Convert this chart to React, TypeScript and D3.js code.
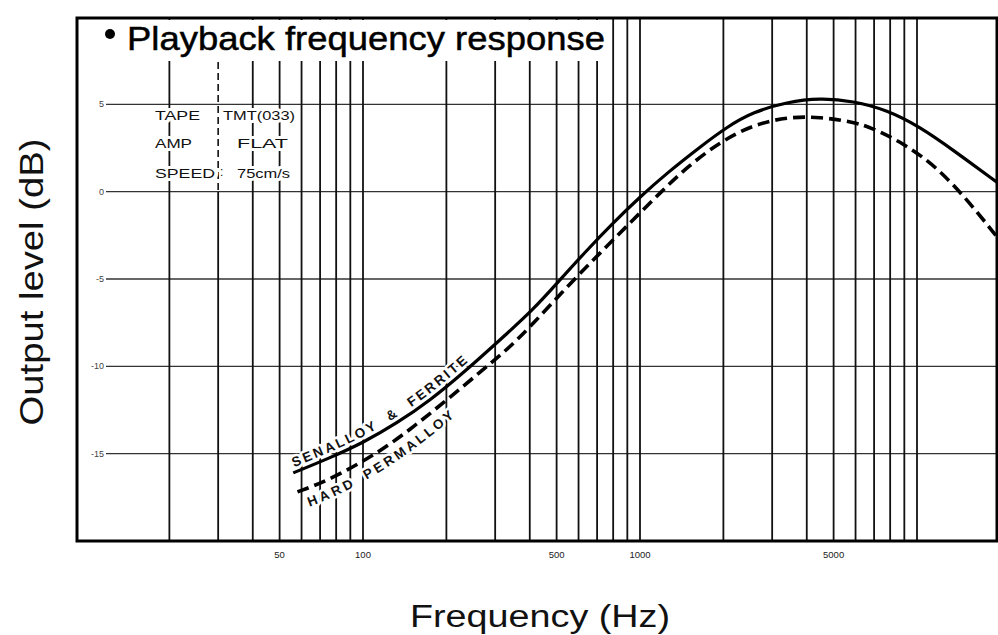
import React from "react";
import * as d3 from "d3";

// Series: SENALLOY & FERRITE (solid)
const solidFreq = [56, 76, 100, 133, 175, 230, 312, 411, 514, 644, 799, 1000, 1252, 1647, 2061, 2558, 3394, 4465, 5875, 7795, 10250, 13490, 19600];
const solidDb = [-16.1, -15.24, -14.38, -13.24, -11.94, -10.38, -8.49, -6.77, -5.05, -3.34, -1.79, -0.3, 1.07, 2.56, 3.71, 4.56, 5.13, 5.36, 5.19, 4.68, 3.71, 2.39, 0.5];
// Series: HARD PERMALLOY (dashed)
const dashedFreq = [58, 76, 115, 152, 201, 265, 331, 411, 545, 717, 943, 1181, 1478, 1945, 2558, 3394, 4465, 5875, 6766, 8902, 11810, 15540, 19450];
const dashedDb = [-17.19, -16.5, -14.9, -13.47, -11.92, -10.32, -9.06, -7.57, -5.45, -3.51, -1.62, -0.07, 1.41, 2.85, 3.82, 4.28, 4.28, 3.99, 3.7, 2.79, 1.41, -0.65, -2.59];

const gridFreqs = [20, 30, 40, 50, 60, 70, 80, 90, 100, 200, 300, 400, 500, 600, 700, 800, 900, 1000, 2000, 3000, 4000, 5000, 6000, 7000, 8000, 9000, 10000];
const xTickValues = [50, 100, 500, 1000, 5000];
const xTickLabels = ["50", "100", "500", "1000", "5000"];
const yTickValues = [5, 0, -5, -10, -15];
const yTickLabels = ["5", "0", "-5", "-10", "-15"];

const titleText = "Playback frequency response";
const xTitle = "Frequency (Hz)";
const yTitle = "Output level (dB)";
const noteLeft = ["TAPE", "AMP", "SPEED"];
const noteRight = ["TMT(033)", "FLAT", "75cm/s"];
const solidLabel = ["SENALLOY", "&", "FERRITE"];
const dashedLabel = ["HARD", "PERMALLOY"];

const FONT = "'Liberation Sans', Arial, Helvetica, sans-serif";

export default function App() {
  const X0 = 77, X1 = 997, Y0 = 18, Y1 = 541;
  const x = d3.scaleLog().domain([10, 10000]).range([86, 917]);
  const y = d3.scaleLinear().domain([-20, 10]).range([541, 17]);

  const solid = solidFreq.map((f, i) => ({ f, v: solidDb[i] }));
  const dashed = dashedFreq.map((f, i) => ({ f, v: dashedDb[i] }));
  const line = d3
    .line<{ f: number; v: number }>()
    .x((d) => x(d.f))
    .y((d) => y(d.v))
    .curve(d3.curveBasis);
  const solidPath = line(solid) || "";
  const dashedPath = line(dashed) || "";

  const halo = { stroke: "#fff", strokeWidth: 6, paintOrder: "stroke" as const, strokeLinejoin: "round" as const };

  const noteX1 = [155, 155, 155];
  const noteW1 = [45, 37, 60];
  const noteX2 = [223, 237, 237];
  const noteW2 = [72, 51, 53];
  const noteY = [120, 148, 178];

  const lblStyle = { fontSize: 13.5, fill: "#111", fontWeight: "bold" as const, letterSpacing: 2.6, ...halo, strokeWidth: 5 };

  return (
    <svg width={998} height={635} style={{ position: "absolute", left: 0, top: 0, background: "#fff" }} fontFamily={FONT}>
      <defs>
        <clipPath id="plotClip">
          <rect x={X0} y={Y0} width={X1 - X0} height={Y1 - Y0} />
        </clipPath>
      </defs>
      <rect x={0} y={0} width={998} height={635} fill="#fff" />

      {/* horizontal grid */}
      {yTickValues.map((v, i) => (
        <g key={"h" + i}>
          <line x1={106} x2={X1} y1={y(v)} y2={y(v)} stroke="#333" strokeWidth={1.4} />
          <text x={104} y={y(v) + 3} fontSize={9} textAnchor="end" fill="#444">{yTickLabels[i]}</text>
        </g>
      ))}

      {/* vertical grid */}
      {gridFreqs.map((f) =>
        f === 30 ? (
          <g key={"v" + f}>
            <line x1={x(f)} x2={x(f)} y1={62} y2={y(0)} stroke="#111" strokeWidth={1.6} strokeDasharray="7 4" />
            <line x1={x(f)} x2={x(f)} y1={y(0)} y2={Y1} stroke="#111" strokeWidth={1.8} />
          </g>
        ) : (
          <line key={"v" + f} x1={x(f)} x2={x(f)} y1={Y0} y2={Y1} stroke="#111" strokeWidth={1.8} />
        )
      )}

      {/* title box */}
      <rect x={X0 + 2} y={Y0 + 2} width={532} height={41} fill="#fff" />
      <circle cx={110} cy={34} r={5} fill="#000" />
      <text x={127} y={50} fontSize={34} textLength={478} lengthAdjust="spacingAndGlyphs" fill="#000" stroke="#000" strokeWidth={0.5}>
        {titleText}
      </text>

      {/* notes */}
      {noteLeft.map((t, i) => (
        <text key={"nl" + i} x={noteX1[i]} y={noteY[i]} fontSize={13.5} textLength={noteW1[i]} lengthAdjust="spacingAndGlyphs" fill="#111" {...halo}>
          {t}
        </text>
      ))}
      {noteRight.map((t, i) => (
        <text key={"nr" + i} x={noteX2[i]} y={noteY[i]} fontSize={13.5} textLength={noteW2[i]} lengthAdjust="spacingAndGlyphs" fill="#111" {...halo}>
          {t}
        </text>
      ))}
      <text x={220} y={176} fontSize={12} fill="#111">:</text>

      {/* curve labels */}
      <path id="solidCurve" d={solidPath} fill="none" stroke="none" />
      <path id="dashedCurve" d={dashedPath} fill="none" stroke="none" />
      <text {...lblStyle}>
        <textPath href="#solidCurve" startOffset={3}>
          <tspan dy={-5}>{solidLabel[0]}</tspan>
        </textPath>
      </text>
      <text {...lblStyle}>
        <textPath href="#solidCurve" startOffset={110}>
          <tspan dy={-5}>{solidLabel[1]}</tspan>
        </textPath>
      </text>
      <text {...lblStyle}>
        <textPath href="#solidCurve" startOffset={136}>
          <tspan dy={-5}>{solidLabel[2]}</tspan>
        </textPath>
      </text>
      <text {...lblStyle}>
        <textPath href="#dashedCurve" startOffset={6}>
          <tspan dy={18}>{dashedLabel[0]}</tspan>
        </textPath>
      </text>
      <text {...lblStyle}>
        <textPath href="#dashedCurve" startOffset={66}>
          <tspan dy={18}>{dashedLabel[1]}</tspan>
        </textPath>
      </text>

      {/* curves */}
      <g clipPath="url(#plotClip)">
        <path d={solidPath} fill="none" stroke="#000" strokeWidth={3.2} />
        <path d={dashedPath} fill="none" stroke="#000" strokeWidth={3.6} strokeDasharray="12 6" />
      </g>

      {/* frame */}
      <rect x={X0} y={Y0} width={X1 - X0} height={Y1 - Y0} fill="none" stroke="#000" strokeWidth={3} />

      {/* x tick labels */}
      {xTickValues.map((v, i) => (
        <text key={"xt" + i} x={x(v)} y={558} fontSize={9.5} textAnchor="middle" fill="#222">
          {xTickLabels[i]}
        </text>
      ))}

      {/* axis titles */}
      <text x={410} y={627} fontSize={31} textLength={260} lengthAdjust="spacingAndGlyphs" fill="#111">
        {xTitle}
      </text>
      <text
        transform="translate(43,282) rotate(-90)"
        x={0}
        y={0}
        fontSize={33}
        textAnchor="middle"
        textLength={287}
        lengthAdjust="spacingAndGlyphs"
        fill="#111"
      >
        {yTitle}
      </text>
    </svg>
  );
}
